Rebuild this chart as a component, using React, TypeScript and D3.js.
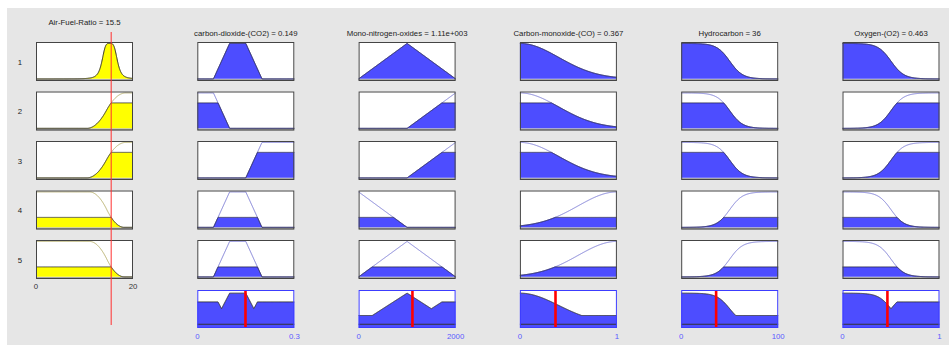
import React from "react";
import * as d3 from "d3";

type Mf = [string, number[]];

// input variable and rules
const inputName = "Air-Fuel-Ratio";
const inputValue = 15.5;
const inputRange: [number, number] = [0, 20];
const inputTicks = ["0", "20"];
const ruleLabels = ["1", "2", "3", "4", "5"];
const inputMfs: Mf[] = [
  ["gbell", [1.6, 2, 15.2]],
  ["smf", [10.5, 18.5]],
  ["smf", [10.5, 18.5]],
  ["zmf", [11, 18.2]],
  ["zmf", [11, 18.2]],
];

// output variables
const outputNames = [
  "carbon-dioxide-(CO2)",
  "Mono-nitrogen-oxides",
  "Carbon-monoxide-(CO)",
  "Hydrocarbon",
  "Oxygen-(O2)",
];
const outputValues = [0.149, 1110, 0.367, 36, 0.463];
const outputValueLabels = ["0.149", "1.11e+003", "0.367", "36", "0.463"];
const outputRanges: [number, number][] = [[0, 0.3], [0, 2000], [0, 1], [0, 100], [0, 1]];
const outputTicks = [["0", "0.3"], ["0", "2000"], ["0", "1"], ["0", "100"], ["0", "1"]];

const co2Mfs: Mf[] = [
  ["trap", [0.05, 0.1, 0.15, 0.2]],
  ["trap", [-0.05, 0, 0.05, 0.1]],
  ["trap", [0.15, 0.2, 0.3, 0.35]],
  ["trap", [0.05, 0.1, 0.15, 0.2]],
  ["trap", [0.05, 0.1, 0.15, 0.2]],
];
const noxMfs: Mf[] = [
  ["trap", [0, 1000, 1000, 2000]],
  ["trap", [1000, 2000, 2000, 3000]],
  ["trap", [1000, 2000, 2000, 3000]],
  ["trap", [-1000, 0, 0, 1000]],
  ["trap", [0, 1000, 1000, 2000]],
];
const coMfs: Mf[] = [
  ["gauss", [0.4, 0]],
  ["gauss", [0.4, 0]],
  ["gauss", [0.4, 0]],
  ["gauss", [0.4, 1]],
  ["gauss", [0.4, 1]],
];
const hcMfs: Mf[] = [
  ["sig", [-0.15, 50]],
  ["sig", [-0.15, 50]],
  ["sig", [-0.15, 50]],
  ["sig", [0.15, 50]],
  ["sig", [0.15, 50]],
];
const o2Mfs: Mf[] = [
  ["sig", [-15, 0.5]],
  ["sig", [15, 0.5]],
  ["sig", [15, 0.5]],
  ["sig", [-15, 0.5]],
  ["sig", [-15, 0.5]],
];
const outputMfs = [co2Mfs, noxMfs, coMfs, hcMfs, o2Mfs];

function evalMf([type, p]: Mf, x: number): number {
  if (type === "trap") {
    const [a, b, c, d] = p;
    const l = b === a ? (x >= a ? 1 : 0) : (x - a) / (b - a);
    const r = d === c ? (x <= d ? 1 : 0) : (d - x) / (d - c);
    return Math.max(0, Math.min(l, 1, r));
  }
  if (type === "gauss") return Math.exp(-((x - p[1]) ** 2) / (2 * p[0] * p[0]));
  if (type === "sig") return 1 / (1 + Math.exp(-p[0] * (x - p[1])));
  if (type === "gbell") return 1 / (1 + Math.abs((x - p[2]) / p[0]) ** (2 * p[1]));
  if (type === "smf" || type === "zmf") {
    const [a, b] = p;
    const m = (a + b) / 2;
    let s;
    if (x <= a) s = 0;
    else if (x <= m) s = 2 * ((x - a) / (b - a)) ** 2;
    else if (x <= b) s = 1 - 2 * ((x - b) / (b - a)) ** 2;
    else s = 1;
    return type === "smf" ? s : 1 - s;
  }
  return 0;
}

const weights = inputMfs.map((m) => evalMf(m, inputValue));

const W = 949;
const H = 345;
const colX = d3.range(6).map((i) => 36 + i * 161.3);
const boxW = 97;
const rowY = d3.range(5).map((i) => 42 + i * 49.5);
const boxH = 39;
const aggY = 290;
const aggH = 38;
const font = "Arial, 'Liberation Sans', sans-serif";

const BLUE = "#4d4dff";

function Panel({ x, y, h, domain, mf, w, fill, thin, edge }: any) {
  const xs = d3.scaleLinear().domain(domain).range([x, x + boxW]);
  const ys = d3.scaleLinear().domain([-0.06, 1.04]).range([y + h, y]);
  const pts = d3.range(401).map((i) => domain[0] + ((domain[1] - domain[0]) * i) / 400);
  const full = d3.line<number>().x((d) => xs(d)).y((d) => ys(evalMf(mf, d)));
  const clip = (d: number) => Math.min(evalMf(mf, d), w);
  const area = d3.area<number>().x((d) => xs(d)).y0(ys(0)).y1((d) => ys(clip(d)));
  const top = d3.line<number>().x((d) => xs(d)).y((d) => ys(clip(d)));
  return (
    <g>
      <rect x={x} y={y} width={boxW} height={h} fill="#fff" />
      <rect x={x} y={ys(0)} width={boxW} height={y + h - ys(0)} fill="#a8a8a8" />
      <path d={full(pts)!} fill="none" stroke={thin} strokeWidth={0.9} />
      <path d={area(pts)!} fill={fill} />
      <path d={top(pts)!} fill="none" stroke={edge} strokeWidth={0.9} />
      <rect x={x + 0.5} y={y + 0.5} width={boxW - 1} height={h - 1} fill="none" stroke="#444" strokeWidth={1} />
    </g>
  );
}

function Aggregate({ x, k }: { x: number; k: number }) {
  const domain = outputRanges[k];
  const xs = d3.scaleLinear().domain(domain).range([x, x + boxW]);
  const ys = d3.scaleLinear().domain([-0.12, 1.1]).range([aggY + aggH, aggY]);
  const pts = d3.range(401).map((i) => domain[0] + ((domain[1] - domain[0]) * i) / 400);
  const u = (d: number) => d3.max(outputMfs[k], (m, i) => Math.min(evalMf(m, d), weights[i]))!;
  const area = d3.area<number>().x((d) => xs(d)).y0(aggY + aggH).y1((d) => ys(u(d)));
  const top = d3.line<number>().x((d) => xs(d)).y((d) => ys(u(d)));
  const vx = xs(outputValues[k]);
  return (
    <g>
      <rect x={x} y={aggY} width={boxW} height={aggH} fill="#fff" />
      <path d={area(pts)!} fill={BLUE} />
      <path d={top(pts)!} fill="none" stroke="#333" strokeWidth={1} />
      <line x1={x} x2={x + boxW} y1={ys(0)} y2={ys(0)} stroke="#333" strokeWidth={1} />
      <line x1={vx} x2={vx} y1={aggY + 1} y2={aggY + aggH - 1} stroke="#ff0000" strokeWidth={2.6} />
      <rect x={x + 0.5} y={aggY + 0.5} width={boxW - 1} height={aggH - 1} fill="none" stroke="#3c3cff" strokeWidth={1} />
      <text x={xs(domain[0])} y={339} fontSize={7.8} fill="#5a5aff" textAnchor="middle">{outputTicks[k][0]}</text>
      <text x={xs(domain[1])} y={339} fontSize={7.8} fill="#5a5aff" textAnchor="middle">{outputTicks[k][1]}</text>
    </g>
  );
}

export default function App() {
  const xin = d3.scaleLinear().domain(inputRange).range([colX[0], colX[0] + boxW]);
  return (
    <svg width={W} height={H} style={{ position: "absolute", left: 0, top: 0 }} fontFamily={font}>
      <rect width={W} height={H} fill="#fff" />
      <rect x={7} y={8} width={W - 7} height={H - 8} fill="#e6e6e6" />
      <text x={colX[0] + boxW / 2} y={25} fontSize={7.8} fill="#222" textAnchor="middle">
        {`${inputName} = ${inputValue}`}
      </text>
      {outputNames.map((n, k) => (
        <text key={n} x={colX[k + 1] + boxW / 2} y={35.5} fontSize={7.8} fill="#222" textAnchor="middle">
          {`${n} = ${outputValueLabels[k]}`}
        </text>
      ))}
      {ruleLabels.map((r, i) => (
        <text key={r} x={20} y={rowY[i] + boxH / 2 + 3} fontSize={7.8} fill="#222" textAnchor="middle">{r}</text>
      ))}
      {inputMfs.map((m, i) => (
        <Panel key={"in" + i} x={colX[0]} y={rowY[i]} h={boxH} domain={inputRange} mf={m} w={weights[i]}
          fill="#ffff00" thin="#b0a860" edge="#333" />
      ))}
      {outputMfs.map((mfs, k) =>
        mfs.map((m, i) => (
          <Panel key={`o${k}-${i}`} x={colX[k + 1]} y={rowY[i]} h={boxH} domain={outputRanges[k]} mf={m}
            w={weights[i]} fill={BLUE} thin="#6f6fd0" edge="#2a2a50" />
        ))
      )}
      {outputMfs.map((_, k) => <Aggregate key={"ag" + k} x={colX[k + 1]} k={k} />)}
      <text x={xin(inputRange[0])} y={289} fontSize={7.8} fill="#333" textAnchor="middle">{inputTicks[0]}</text>
      <text x={xin(inputRange[1])} y={289} fontSize={7.8} fill="#333" textAnchor="middle">{inputTicks[1]}</text>
      <line x1={xin(inputValue)} x2={xin(inputValue)} y1={32} y2={325} stroke="#ff3030" strokeWidth={1} />
    </svg>
  );
}
